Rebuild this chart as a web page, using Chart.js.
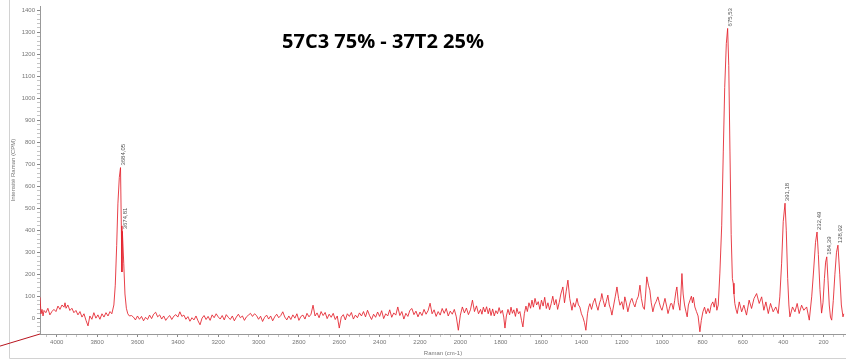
<!DOCTYPE html>
<html>
<head>
<meta charset="utf-8">
<title>57C3 75% - 37T2 25%</title>
<script src="https://cdn.jsdelivr.net/npm/chart.js@4.4.1/dist/chart.umd.min.js"></script>
<style>
  html, body { margin: 0; padding: 0; background: #fff; }
  #wrap { width: 846px; height: 360px; }
</style>
</head>
<body>
<div id="wrap"><canvas id="spectre" width="846" height="360"></canvas></div>
<script>
const sampleName = '57C3 75% - 37T2 25%';

// [raman shift cm-1, counts]
const ohRegion = [
  [4083,95],[4078,20],[4073,40],[4068,10],[4063,35],[4054,25],[4044,45],[4034,15],[4024,30],[4014,40],
  [4004,30],[3994,55],[3984,40],[3974,60],[3964,50],[3959,70],[3954,45],[3945,60],[3935,35],[3925,45],
  [3915,25],[3905,35],[3895,15],[3885,30],[3875,5],[3865,20],[3855,-10],[3845,-35],[3836,10],[3826,-5],
  [3816,25],[3806,0],[3796,15],[3786,-5],[3776,20],[3766,5],[3756,25],[3746,10],[3736,30],[3727,20],
  [3717,60],[3710,150],[3703,330],[3697,520],[3690,640],[3684.05,685],[3680,420],[3677,210],[3674.81,395],[3668,250],
  [3662,110],[3655,45],[3648,20],[3640,10]
];

const flatRegion = [
  [3630,12],[3620,5],[3610,-8],[3600,10],[3590,-5],[3580,8],[3570,-12],[3560,4],[3550,-6],[3540,14],
  [3530,-2],[3520,18],[3510,27],[3500,6],[3490,15],[3480,-4],[3470,10],[3460,-10],[3450,3],[3440,12],
  [3430,-6],[3420,9],[3410,16],[3400,5],[3390,29],[3380,8],[3370,14],[3360,-5],[3350,7],[3340,-14],
  [3330,2],[3320,-8],[3310,10],[3300,-12],[3290,-30],[3280,0],[3270,12],[3260,-6],[3250,8],[3240,-10],
  [3230,15],[3220,2],[3210,20],[3200,6],[3190,-4],[3180,12],[3170,-8],[3160,16],[3150,4],[3140,-6],
  [3130,10],[3120,-12],[3110,5],[3100,18],[3090,2],[3080,10],[3070,-10],[3060,6],[3050,14],[3040,22],
  [3030,8],[3020,20],[3010,12],[3000,-5],[2990,9],[2980,-15],[2970,4],[2960,14],[2950,-4],[2940,10],
  [2930,-12],[2920,6],[2910,18],[2900,2],[2890,12],[2880,29],[2870,5],[2860,-8],[2850,10],[2840,-6],
  [2830,15],[2820,0],[2810,20],[2800,-10],[2790,8],[2780,14],[2770,-4],[2760,22],[2750,6],[2740,18],
  [2730,59],[2720,10],[2710,24],[2700,2],[2690,30],[2680,12],[2670,26],[2660,-2],[2650,18],[2640,4],
  [2630,22],[2620,-6],[2610,10],[2600,-45],[2590,5],[2580,16],[2570,-8],[2560,20],[2550,8],[2540,26],
  [2530,-4],[2520,14],[2510,2],[2500,24],[2490,10],[2480,30],[2470,6],[2460,36],[2450,12],[2440,-6],
  [2430,18],[2420,4],[2410,28],[2400,8],[2390,34],[2380,-2],[2370,20],[2360,10],[2350,38],[2340,4],
  [2330,24],[2320,14],[2310,51],[2300,12],[2290,30],[2280,-4],[2270,22],[2260,8],[2250,36],[2240,44],
  [2230,16],[2220,32],[2210,6],[2200,28],[2190,12],[2180,40],[2170,18],[2160,34],[2150,68],[2140,20],
  [2130,38],[2120,8],[2110,30],[2100,14],[2090,44],[2080,22],[2070,44],[2060,10],[2050,32],[2040,18],
  [2030,40],[2020,6],[2010,-55],[2000,14],[1990,51],[1980,24],[1970,46],[1960,16],[1950,38],[1940,82],
  [1930,30],[1920,56],[1910,20]
];

const fingerprint = [
  [1900,40],[1893,18],[1886,50],[1878,28],[1870,52],[1862,20],[1855,45],[1848,12],[1840,42],[1832,10],
  [1824,34],[1816,20],[1808,48],[1800,22],[1792,36],[1785,5],[1779,-45],[1772,10],[1764,40],[1756,15],
  [1749,50],[1742,22],[1735,38],[1727,8],[1720,45],[1712,20],[1705,30],[1697,-10],[1690,-40],[1683,20],
  [1675,55],[1668,30],[1660,70],[1652,45],[1645,82],[1638,50],[1630,90],[1622,60],[1614,75],[1606,40],
  [1598,82],[1590,55],[1582,95],[1574,44],[1566,70],[1558,38],[1550,66],[1542,100],[1534,60],[1526,85],
  [1518,40],[1510,72],[1502,110],[1492,142],[1484,70],[1476,120],[1467,173],[1458,90],[1447,36],[1440,70],
  [1432,50],[1422,90],[1415,60],[1408,51],[1400,20],[1393,5],[1385,-20],[1378,-55],[1370,20],[1364,50],
  [1358,66],[1350,40],[1342,70],[1333,90],[1326,60],[1318,36],[1310,70],[1304,85],[1299,112],[1292,80],
  [1284,51],[1277,75],[1269,105],[1262,60],[1255,40],[1249,14],[1240,60],[1232,100],[1224,142],[1216,90],
  [1209,59],[1200,75],[1192,40],[1185,97],[1178,70],[1170,29],[1162,60],[1156,80],[1150,90],[1142,66],
  [1135,51],[1127,80],[1118,100],[1110,150],[1103,90],[1095,51],[1088,40],[1082,110],[1076,188],[1068,150],
  [1061,127],[1054,70],[1046,29],[1038,60],[1030,75],[1021,97],[1014,70],[1008,50],[1001,36],[994,60],
  [986,90],[978,55],[971,21],[964,45],[958,66],[952,66],[945,40],[938,80],[932,120],[927,142],
  [920,70],[912,36],[907,110],[902,203],[896,110],[889,60],[882,29],[876,6],[870,60],[862,82],
  [855,100],[850,70],[845,95],[838,51],[830,30],[822,10],[813,-62],[806,-10],[798,29],[790,50],
  [782,20],[773,44],[765,23],[757,60],[749,74],[742,50],[735,90],[729,36],[722,60]
];

const mainBand = [
  [714,205],[705,420],[697,760],[690,1050],[682,1250],[675.53,1318],[670,1150],[664,760],[658,380],[652,180],
  [648,159],[644,110],[640,67]
];

const lowRegion = [
  [634,40],[628,21],[618,74],[606,29],[595,59],[582,14],[569,82],[557,44],[545,89],[532,112],
  [519,67],[507,97],[496,36],[486,74],[474,21],[463,67],[450,29],[437,51],[425,21],[417,97],
  [408,250],[400,440],[391.18,523],[385,400],[378,180],[372,60],[367,6],[354,51],[342,29],[331,67],
  [321,21],[309,59],[298,36],[284,51],[271,-9],[259,97],[250,210],[240,345],[232.49,392],[226,290],
  [218,130],[210,23],[203,70],[196,180],[190,255],[184.39,279],[178,170],[172,60],[166,5],[160,-9],
  [152,80],[144,200],[136,300],[128.92,332],[120,200],[112,60],[104,6],[100,20]
];

// labelled band positions (cm-1)
const peakShift = [3684.05, 3674.81, 675.53, 391.18, 232.49, 184.39, 128.92];

const xTickLabels = [4000, 3800, 3600, 3400, 3200, 3000, 2800, 2600, 2400, 2200, 2000, 1800, 1600, 1400, 1200, 1000, 800, 600, 400, 200];
const yTickLabels = [0, 100, 200, 300, 400, 500, 600, 700, 800, 900, 1000, 1100, 1200, 1300, 1400];

// trace running off the left of the plot
const tail = [[4281,-127],[4083,-72]];

const spectrum = [].concat(ohRegion, flatRegion, fingerprint, mainBand, lowRegion);
const points = spectrum.map(p => ({ x: p[0], y: p[1] }));

const axisFont = { family: '"Liberation Sans", Arial, sans-serif', size: 6 };

const framePlugin = {
  id: 'frame',
  beforeDraw(chart) {
    const ctx = chart.ctx;
    ctx.save();
    ctx.strokeStyle = '#d2d2d2';
    ctx.lineWidth = 1;
    ctx.beginPath();
    ctx.moveTo(9.5, 0);
    ctx.lineTo(9.5, 358.5);
    ctx.lineTo(chart.width, 358.5);
    ctx.stroke();
    ctx.restore();
  }
};

const peakLabels = {
  id: 'peakLabels',
  afterDatasetsDraw(chart) {
    const { ctx, scales: { x, y } } = chart;
    ctx.save();
    ctx.font = '6px "Liberation Sans", Arial, sans-serif';
    ctx.fillStyle = '#555';
    ctx.textAlign = 'left';
    ctx.textBaseline = 'middle';
    peakShift.forEach(s => {
      const p = spectrum.find(d => d[0] === s);
      const px = x.getPixelForValue(s);
      const py = y.getPixelForValue(p[1]);
      ctx.save();
      ctx.translate(px + 2.5, py - 2);
      ctx.rotate(-Math.PI / 2);
      ctx.fillText(s.toFixed(2).replace('.', ','), 0, 0);
      ctx.restore();
    });
    ctx.restore();
  }
};

const titlePlugin = {
  id: 'sampleTitle',
  afterDraw(chart) {
    const ctx = chart.ctx;
    ctx.save();
    ctx.font = 'bold 20px "Open Sans", sans-serif';
    ctx.fillStyle = '#000';
    ctx.textAlign = 'center';
    ctx.textBaseline = 'middle';
    ctx.fillText(sampleName, 383, 42);
    ctx.restore();
  }
};

new Chart(document.getElementById('spectre'), {
  type: 'line',
  data: {
    datasets: [{
      data: points,
      borderColor: 'rgba(228, 32, 42, 0.85)',
      borderWidth: 1,
      pointRadius: 0,
      tension: 0
    }, {
      data: tail.map(p => ({ x: p[0], y: p[1] })),
      borderColor: '#b8141e',
      borderWidth: 1,
      pointRadius: 0,
      clip: false
    }]
  },
  options: {
    responsive: false,
    animation: false,
    layout: { padding: { top: 6, right: 0, bottom: 0, left: 0 } },
    plugins: { legend: { display: false }, tooltip: { enabled: false } },
    scales: {
      x: {
        type: 'linear',
        reverse: true,
        min: 89,
        max: 4083,
        afterBuildTicks(scale) {
          const t = [];
          for (let v = 4050; v >= 100; v -= 50) t.push({ value: v });
          scale.ticks = t;
        },
        afterFit(scale) { scale.height = 26; },
        ticks: {
          autoSkip: false,
          maxRotation: 0,
          padding: 1.5,
          font: axisFont,
          color: '#777',
          callback: v => xTickLabels.includes(v) ? String(v) : ''
        },
        grid: {
          drawOnChartArea: false,
          tickLength: 3,
          tickColor: c => xTickLabels.includes(c.tick && c.tick.value) ? '#888' : '#c4c4c4'
        },
        border: { color: '#999' },
        title: {
          display: true,
          text: 'Raman (cm-1)',
          font: axisFont,
          color: '#777',
          padding: { top: 0, bottom: 3.4 }
        }
      },
      y: {
        min: -72,
        max: 1420,
        afterBuildTicks(scale) {
          const t = [];
          for (let v = -60; v <= 1400; v += 20) t.push({ value: v });
          scale.ticks = t;
        },
        afterFit(scale) { scale.width = 40; },
        ticks: {
          autoSkip: false,
          padding: 2,
          font: axisFont,
          color: '#777',
          callback: v => yTickLabels.includes(v) ? String(v) : ''
        },
        grid: {
          drawOnChartArea: false,
          tickLength: 3,
          tickColor: c => yTickLabels.includes(c.tick && c.tick.value) ? '#888' : '#c4c4c4'
        },
        border: { color: '#999' },
        title: {
          display: true,
          text: 'Intensité Raman (CPM)',
          font: axisFont,
          color: '#777',
          padding: { top: 9.4, bottom: 0 }
        }
      }
    }
  },
  plugins: [framePlugin, peakLabels, titlePlugin]
});
</script>
</body>
</html>
